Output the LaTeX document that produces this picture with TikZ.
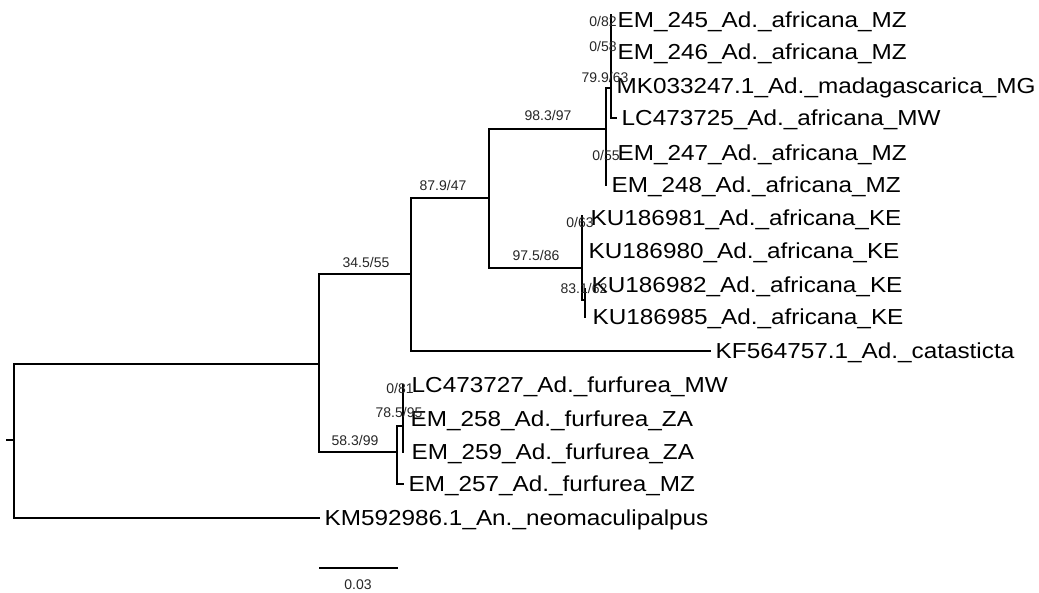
\documentclass[tikz,border=0pt]{standalone}
\usepackage{fontspec}
\setmainfont{Liberation Sans}
\newfontfamily\leaffont[FakeStretch=1.12]{Liberation Sans}
\begin{document}
\begin{tikzpicture}[x=1pt,y=-1pt,
  br/.style={line width=2.6pt, line cap=rect},
  leaf/.style={anchor=west, inner xsep=6pt, inner ysep=0pt, text height=15.4pt, text depth=0pt,
    font=\leaffont\fontsize{21.7}{24}\selectfont},
  blab/.style={inner sep=0pt, text height=10pt, text depth=0pt, text=black!85,
    font=\fontsize{14}{16}\selectfont}]
\useasboundingbox (0,0) rectangle (1039,592);
% leaves
\node[leaf] (em245) at (611.5,20)  {EM\_245\_Ad.\_africana\_MZ};
\node[leaf] (em246) at (611.5,52)  {EM\_246\_Ad.\_africana\_MZ};
\node[leaf] (mk)    at (610.5,86)  {MK033247.1\_Ad.\_madagascarica\_MG};
\node[leaf] (lc725) at (615.5,118) {LC473725\_Ad.\_africana\_MW};
\node[leaf] (em247) at (611.5,153) {EM\_247\_Ad.\_africana\_MZ};
\node[leaf] (em248) at (605.5,185) {EM\_248\_Ad.\_africana\_MZ};
\node[leaf] (ku981) at (584.5,218) {KU186981\_Ad.\_africana\_KE};
\node[leaf] (ku980) at (582.5,251) {KU186980\_Ad.\_africana\_KE};
\node[leaf] (ku982) at (585.5,285) {KU186982\_Ad.\_africana\_KE};
\node[leaf] (ku985) at (586.5,317) {KU186985\_Ad.\_africana\_KE};
\node[leaf] (kf)    at (709.5,351) {KF564757.1\_Ad.\_catasticta};
\node[leaf] (lc727) at (405.5,385) {LC473727\_Ad.\_furfurea\_MW};
\node[leaf] (em258) at (404.5,419) {EM\_258\_Ad.\_furfurea\_ZA};
\node[leaf] (em259) at (405.5,452) {EM\_259\_Ad.\_furfurea\_ZA};
\node[leaf] (em257) at (402.5,484) {EM\_257\_Ad.\_furfurea\_MZ};
\node[leaf] (km)    at (318.5,518) {KM592986.1\_An.\_neomaculipalpus};
% internal nodes
\coordinate (R) at (14,440);
\coordinate (Rtick) at (7,440);
\coordinate (A) at (319,364);
\coordinate (B) at (411,274);
\coordinate (C) at (397,452);
\coordinate (D) at (489,198);
\coordinate (E) at (606,129);
\coordinate (F) at (611,88);
\coordinate (H) at (582,268);
\coordinate (J) at (585,300);
\coordinate (I) at (403,426);
% branches
\draw[br] (Rtick) -- (R);
\draw[br] (R |- A) -- (R |- km.west);
\draw[br] (R |- A) -- (A);
\draw[br] (R |- km.west) -- (km.west);
\draw[br] (A |- B) -- (A |- C);
\draw[br] (A |- B) -- (B);
\draw[br] (A |- C) -- (C);
\draw[br] (B |- D) -- (B |- kf.west);
\draw[br] (B |- D) -- (D);
\draw[br] (B |- kf.west) -- (kf.west);
\draw[br] (D |- E) -- (D |- H);
\draw[br] (D |- E) -- (E);
\draw[br] (D |- H) -- (H);
\draw[br] (E |- F) -- (E |- em248.west);
\draw[br] (E |- F) -- (F);
\draw[br] ([yshift=5pt]F |- em245.west) -- (F |- lc725.west);
\draw[br] (F |- lc725.west) -- (lc725.west);
\draw[br] ([yshift=2pt]H |- ku981.west) -- (H |- J);
\draw[br] (H |- J) -- (J);
\draw[br] ([yshift=11pt]J) -- (J |- ku985.west);
\draw[br] (C |- I) -- (C |- em257.west);
\draw[br] (C |- I) -- (I);
\draw[br] (C |- em257.west) -- (em257.west);
\draw[br] (I |- lc727.west) -- (I |- em259.west);
% support labels
\node[blab] (l1)  at (366,262) {34.5/55};
\node[blab] (l2)  at (443,185) {87.9/47};
\node[blab] (l3)  at (548,115) {98.3/97};
\node[blab] (l4)  at (536,255) {97.5/86};
\node[blab] (l5)  at (355,440) {58.3/99};
\node[blab] (l6)  at (603,21)  {0/82};
\node[blab] (l7)  at (603,46)  {0/58};
\node[blab] (l8)  at (605,77)  {79.9/63};
\node[blab] (l9)  at (606,155) {0/55};
\node[blab] (l10) at (580,222) {0/63};
\node[blab] (l11) at (584,288) {83.1/62};
\node[blab] (l12) at (400,388) {0/81};
\node[blab] (l13) at (399,412) {78.5/95};
% scale bar
\coordinate (s1) at (320,568);
\coordinate (s2) at (397,568);
\draw[br] (s1) -- (s2);
\node[blab] (sc) at (358,584) {0.03};
\end{tikzpicture}
\end{document}
